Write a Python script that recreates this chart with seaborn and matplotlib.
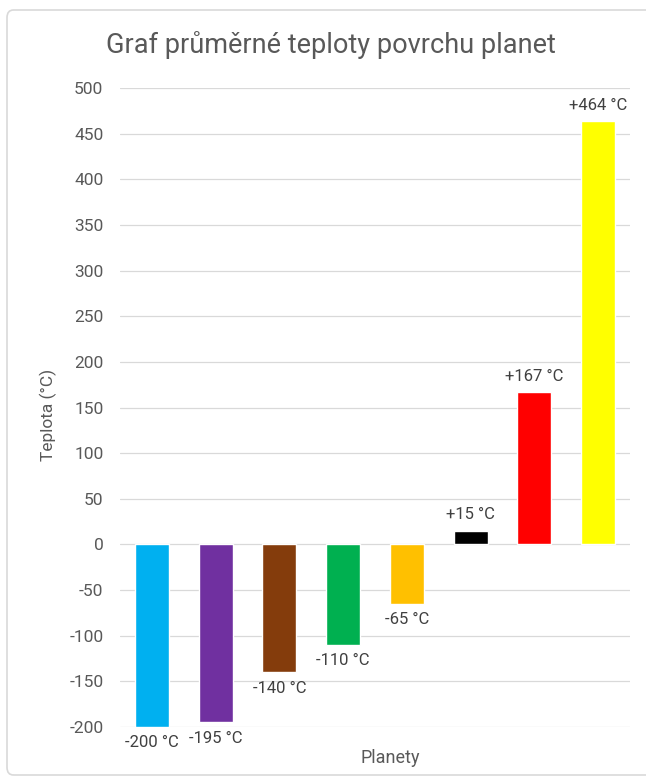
import matplotlib
matplotlib.use("Agg")
import matplotlib.pyplot as plt
from matplotlib.patches import FancyBboxPatch
from matplotlib import font_manager
import seaborn as sns
import pandas as pd

planets = ["Neptun", "Uran", "Saturn", "Jupiter", "Mars", "Země", "Merkur", "Venuše"]
temps = [-200, -195, -140, -110, -65, 15, 167, 464]
labels = ["-200 °C", "-195 °C", "-140 °C", "-110 °C", "-65 °C", "+15 °C", "+167 °C", "+464 °C"]
colors = ["#00B0F0", "#7030A0", "#843C0C", "#00B050", "#FFC000", "#000000", "#FF0000", "#FFFF00"]
yticks = [-200, -150, -100, -50, 0, 50, 100, 150, 200, 250, 300, 350, 400, 450, 500]

sns.set_theme(style="white")
names = {f.name for f in font_manager.fontManager.ttflist}
fam = "Liberation Sans Narrow" if "Liberation Sans Narrow" in names else "Roboto"
plt.rcParams["font.family"] = [fam, "DejaVu Sans"]

df = pd.DataFrame({"planet": planets, "temp": temps})

fig = plt.figure(figsize=(6.46, 7.79), dpi=100)
ax = fig.add_axes([120/646, 1-727/779, 510/646, (727-88)/779])

sns.barplot(data=df, x="planet", y="temp", hue="planet", palette=colors,
            legend=False, width=0.53, ax=ax, saturation=1)

ax.set_ylim(-200, 500)
ax.set_yticks(yticks)
ax.set_yticklabels([str(t) for t in yticks], color="#595959", fontsize=12.5)
ax.set_xticks([])
ax.set_xlabel("")
ax.set_ylabel("")
ax.set_axisbelow(True)
ax.grid(axis="y", color="#D9D9D9", linewidth=0.9)
ax.grid(axis="x", visible=False)
for s in ax.spines.values():
    s.set_visible(False)
ax.tick_params(axis="y", length=0, pad=12)

for i, (v, lab) in enumerate(zip(temps, labels)):
    if v >= 0:
        ax.annotate(lab, (i, v), xytext=(0, 6), textcoords="offset points",
                    ha="center", va="bottom", fontsize=12, color="#404040")
    else:
        ax.annotate(lab, (i, v), xytext=(0, -6), textcoords="offset points",
                    ha="center", va="top", fontsize=12, color="#404040")

fig.text(331/646, 1-45/779, "Graf průměrné teploty povrchu planet", ha="center", va="center",
         fontsize=19.5, color="#595959")
fig.text(48/646, 1-415/779, "Teplota (°C)", rotation=90, ha="center", va="center",
         fontsize=12.5, color="#595959")
fig.text(390/646, 1-758/779, "Planety", ha="center", va="center",
         fontsize=13, color="#595959")

border = FancyBboxPatch((7/646, 4/779), 1.02, 1-14/779, boxstyle="round,pad=0,rounding_size=0.01",
                        transform=fig.transFigure, fill=False, edgecolor="#D9D9D9", linewidth=1.2,
                        clip_on=False)
fig.patches.append(border)

fig.savefig("out.png", dpi=100)
